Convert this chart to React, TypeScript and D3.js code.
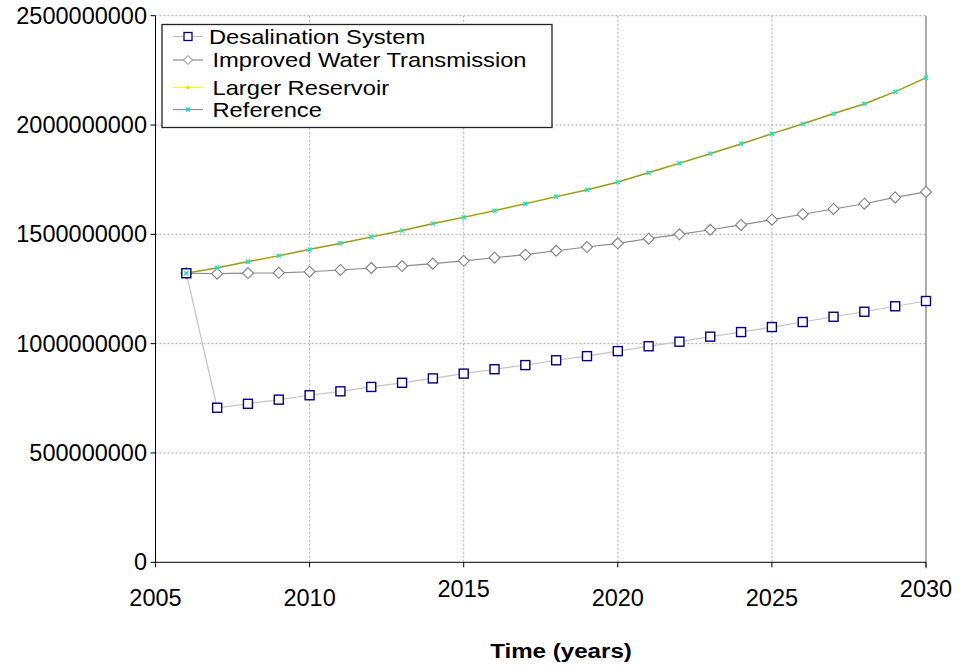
import React from "react";
import * as d3 from "d3";

const years = [2006,2007,2008,2009,2010,2011,2012,2013,2014,2015,2016,2017,2018,2019,2020,2021,2022,2023,2024,2025,2026,2027,2028,2029,2030];

const desalination = [1.322e9,707e6,725e6,744e6,764e6,782e6,802e6,821e6,841e6,863e6,883e6,902e6,924e6,943e6,966e6,988e6,1.009e9,1.032e9,1.053e9,1.076e9,1.099e9,1.123e9,1.146e9,1.171e9,1.195e9];

const improvedTransmission = [1.322e9,1.320e9,1.323e9,1.324e9,1.329e9,1.337e9,1.346e9,1.355e9,1.366e9,1.379e9,1.393e9,1.407e9,1.425e9,1.442e9,1.459e9,1.480e9,1.500e9,1.521e9,1.543e9,1.567e9,1.592e9,1.616e9,1.640e9,1.669e9,1.694e9];

const largerReservoir = [1.322e9,1.347e9,1.375e9,1.402e9,1.431e9,1.459e9,1.488e9,1.517e9,1.549e9,1.578e9,1.608e9,1.640e9,1.672e9,1.703e9,1.739e9,1.782e9,1.825e9,1.869e9,1.914e9,1.960e9,2.005e9,2.052e9,2.097e9,2.152e9,2.216e9];

const reference = [1.322e9,1.347e9,1.375e9,1.402e9,1.431e9,1.459e9,1.488e9,1.517e9,1.549e9,1.578e9,1.608e9,1.640e9,1.672e9,1.703e9,1.739e9,1.782e9,1.825e9,1.869e9,1.914e9,1.960e9,2.005e9,2.052e9,2.097e9,2.152e9,2.216e9];

const xTicks = [2005,2010,2015,2020,2025,2030];
const yTicks = [0,500000000,1000000000,1500000000,2000000000,2500000000];
const seriesNames = ["Desalination System","Improved Water Transmission","Larger Reservoir","Reference"];
const xTitle = "Time (years)";

const FONT = "'Liberation Sans', Arial, sans-serif";

export default function App() {
  const W = 960, H = 670;
  const x = d3.scaleLinear().domain([2005, 2030]).range([155.5, 926]);
  const y = d3.scaleLinear().domain([0, 2.5e9]).range([562.3, 15.7]);
  const line = (vals: number[]) =>
    d3.line<number>().x((_, i) => x(years[i])).y((v) => y(v))(vals) || "";

  const diamond = (cx: number, cy: number, r: number) =>
    `M${cx},${cy - r}L${cx + r},${cy}L${cx},${cy + r}L${cx - r},${cy}Z`;

  const legendRows = [
    { name: seriesNames[0], cy: 36.5, tx: 209 },
    { name: seriesNames[1], cy: 60, tx: 212.5 },
    { name: seriesNames[2], cy: 87.5, tx: 212.5 },
    { name: seriesNames[3], cy: 109.5, tx: 212.5 },
  ];

  const labelShift = (t: number) => (t === 2015 || t === 2030 ? -9 : 0);

  return (
    <svg width={W} height={H} style={{ position: "absolute", left: 0, top: 0, background: "#fff" }} fontFamily={FONT}>
      <rect x={0} y={0} width={W} height={H} fill="#fff" />
      {/* horizontal gridlines */}
      {yTicks.filter((t) => t > 0).map((t) => (
        <line key={"hg" + t} x1={x(2005)} x2={x(2030)} y1={y(t)} y2={y(t)} stroke="#a8a8a8" strokeWidth={1} strokeDasharray="2,2" />
      ))}
      {/* vertical gridlines */}
      {xTicks.filter((t) => t > 2005 && t < 2030).map((t) => (
        <line key={"vg" + t} x1={x(t)} x2={x(t)} y1={y(2.5e9)} y2={y(0)} stroke="#a8a8a8" strokeWidth={1} strokeDasharray="2,2" />
      ))}
      {/* right border */}
      <line x1={x(2030)} x2={x(2030)} y1={y(2.5e9)} y2={y(0) + 6} stroke="#909090" strokeWidth={1.5} />

      {/* series lines */}
      <path d={line(desalination)} fill="none" stroke="#c4c4c4" strokeWidth={1.2} />
      <path d={line(improvedTransmission)} fill="none" stroke="#8c8c8c" strokeWidth={1.2} />
      <path d={line(largerReservoir)} fill="none" stroke="#e6e600" strokeWidth={1.8} />
      <path d={line(reference)} fill="none" stroke="#7a7a7a" strokeWidth={1.2} opacity={0.8} />

      {/* markers */}
      {improvedTransmission.map((v, i) => (
        <path key={"dm" + i} d={diamond(x(years[i]), y(v), 5.5)} fill="#fff" stroke="#808080" strokeWidth={1.1} />
      ))}
      {desalination.map((v, i) => (
        <rect key={"sq" + i} x={x(years[i]) - 4.5} y={y(v) - 4.5} width={9} height={9} fill="#fff" stroke="#000080" strokeWidth={1.4} />
      ))}
      {largerReservoir.map((v, i) => (
        <rect key={"ys" + i} x={x(years[i]) - 1.5} y={y(v) - 1.5} width={3} height={3} fill="#ffff00" />
      ))}
      {reference.map((v, i) => {
        const cx = x(years[i]), cy = y(v);
        return (
          <g key={"rx" + i} stroke="#00e0e0" strokeWidth={1.3}>
            <line x1={cx - 2} y1={cy - 2} x2={cx + 2} y2={cy + 2} />
            <line x1={cx - 2} y1={cy + 2} x2={cx + 2} y2={cy - 2} />
          </g>
        );
      })}

      {/* axes */}
      <line x1={x(2005)} x2={x(2005)} y1={y(2.5e9)} y2={y(0)} stroke="#000" strokeWidth={1} />
      <line x1={x(2005)} x2={x(2030)} y1={y(0)} y2={y(0)} stroke="#000" strokeWidth={1} />
      {yTicks.map((t) => (
        <g key={"yt" + t}>
          <line x1={x(2005) - 5} x2={x(2005)} y1={y(t)} y2={y(t)} stroke="#000" />
          <text x={147} y={y(t)} textAnchor="end" dominantBaseline="central" fontSize={23.5} fill="#000">{t}</text>
        </g>
      ))}
      {xTicks.map((t) => (
        <g key={"xt" + t}>
          <line x1={x(t)} x2={x(t)} y1={y(0)} y2={y(0) + 5} stroke="#000" />
          <text x={x(t)} y={598 + labelShift(t)} textAnchor="middle" dominantBaseline="central" fontSize={23.5} fill="#000">{t}</text>
        </g>
      ))}
      <text x={561} y={651} textAnchor="middle" dominantBaseline="central" fontSize={21} fontWeight="bold" fill="#000" transform="translate(561,0) scale(1.15,1) translate(-561,0)">{xTitle}</text>

      {/* legend */}
      <rect x={162} y={24.5} width={390} height={103} fill="#fff" stroke="#222" strokeWidth={1.3} />
      {legendRows.map((r, i) => (
        <g key={"lg" + i}>
          <line x1={173} x2={203} y1={r.cy} y2={r.cy}
            stroke={i === 0 ? "#c4c4c4" : i === 1 ? "#8c8c8c" : i === 2 ? "#ffff00" : "#909090"} strokeWidth={1.2} />
          {i === 0 && <rect x={188 - 4} y={r.cy - 4} width={8} height={8} fill="#fff" stroke="#000080" strokeWidth={1.3} />}
          {i === 1 && <path d={diamond(188, r.cy, 4.5)} fill="#fff" stroke="#808080" strokeWidth={1} />}
          {i === 2 && <rect x={186.5} y={r.cy - 1.5} width={3} height={3} fill="#e8e800" />}
          {i === 3 && (
            <g stroke="#00e0e0" strokeWidth={1.3}>
              <line x1={186} y1={r.cy - 2} x2={190} y2={r.cy + 2} />
              <line x1={186} y1={r.cy + 2} x2={190} y2={r.cy - 2} />
            </g>
          )}
          <text x={r.tx} y={r.cy} dominantBaseline="central" fontSize={21} fill="#000"
            transform={`translate(${r.tx},0) scale(1.13,1) translate(${-r.tx},0)`}>{r.name}</text>
        </g>
      ))}
    </svg>
  );
}
